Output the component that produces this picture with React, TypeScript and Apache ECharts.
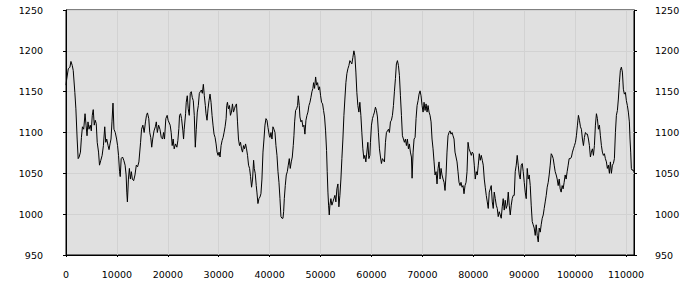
import React, { useEffect, useRef } from "react";
import * as echarts from "echarts";

// Readings of the trace, [position, value], by stretch of the x axis
const stretch0to20k: [number, number][] = [
  [0,1158],[130,1165],[450,1178],[770,1180],[970,1187],[1230,1182],[1420,1176],[1740,1149],[1940,1129],[2190,1092],[2390,1068],[2580,1070],[2840,1076],[3030,1094],[3230,1107],[3480,1104],[3740,1123],[3940,1109],[4130,1096],[4320,1113],[4520,1104],[4770,1109],[4970,1102],[5160,1121],[5350,1128],[5550,1109],[5740,1115],[5940,1111],[6130,1088],[6390,1076],[6580,1060],[6840,1066],[7100,1072],[7350,1084],[7610,1107],[7810,1088],[8000,1092],[8260,1084],[8450,1079],[8650,1086],[8840,1092],[9030,1113],[9230,1136],[9420,1104],[9680,1100],[9940,1092],[10130,1084],[10320,1072],[10520,1052],[10650,1046],[10840,1068],[11100,1070],[11350,1066],[11610,1060],[11810,1048],[11940,1027],[12060,1015],[12260,1043],[12450,1056],[12650,1043],[12840,1052],[13030,1043],[13290,1041],[13550,1048],[13810,1060],[14060,1058],[14320,1064],[14650,1088],[14840,1104],[15100,1109],[15350,1100],[15610,1113],[15810,1121],[16000,1124],[16260,1117],[16450,1100],[16650,1094],[16840,1082],[17030,1092],[17290,1102],[17550,1107],[17740,1113],[17940,1100],[18190,1109],[18450,1104],[18710,1094],[18970,1092],[19160,1100],[19350,1092],[19610,1117],[19870,1121],[20060,1115]
];
const stretch20kto40k: [number, number][] = [
  [20460,1109],[20660,1100],[20860,1084],[21050,1092],[21250,1080],[21510,1086],[21780,1082],[21970,1090],[22170,1105],[22300,1121],[22500,1123],[22700,1117],[22960,1102],[23090,1092],[23220,1104],[23490,1123],[23620,1137],[23820,1145],[24010,1129],[24210,1121],[24410,1148],[24610,1150],[24800,1143],[25000,1139],[25200,1121],[25400,1082],[25590,1104],[25790,1125],[25990,1133],[26190,1148],[26380,1150],[26580,1152],[26780,1148],[26980,1159],[27170,1145],[27370,1133],[27500,1123],[27700,1115],[27900,1129],[28090,1139],[28290,1147],[28490,1137],[28690,1121],[28880,1109],[29080,1098],[29280,1094],[29480,1086],[29670,1076],[29870,1072],[30070,1076],[30260,1070],[30460,1084],[30660,1090],[30860,1094],[31050,1100],[31250,1107],[31450,1117],[31580,1133],[31710,1137],[31910,1129],[32110,1133],[32300,1121],[32500,1125],[32700,1135],[32900,1125],[33090,1129],[33290,1133],[33490,1135],[33690,1113],[33880,1092],[34080,1084],[34280,1088],[34480,1080],[34670,1076],[34870,1084],[35070,1080],[35270,1086],[35460,1080],[35660,1072],[35860,1060],[36060,1056],[36250,1046],[36450,1033],[36650,1043],[36850,1066],[36980,1056],[37170,1050],[37370,1035],[37500,1027],[37700,1013],[37900,1019],[38100,1021],[38290,1025],[38490,1043],[38690,1076],[38890,1092],[39080,1109],[39280,1117],[39480,1115],[39680,1106],[39940,1096]
];
const stretch40kto60k: [number, number][] = [
  [40070,1094],[40260,1100],[40460,1092],[40650,1107],[40850,1104],[41050,1100],[41240,1084],[41440,1072],[41640,1052],[41830,1039],[42030,1019],[42220,997],[42420,995],[42620,995],[42750,1003],[42880,1019],[43070,1035],[43270,1048],[43470,1052],[43660,1060],[43860,1068],[44050,1056],[44250,1064],[44450,1070],[44640,1084],[44770,1096],[44910,1113],[45100,1127],[45300,1129],[45490,1133],[45620,1145],[45820,1133],[45950,1119],[46150,1113],[46340,1115],[46540,1107],[46740,1109],[46930,1098],[47130,1115],[47330,1121],[47520,1125],[47720,1133],[47920,1137],[48110,1143],[48310,1150],[48500,1154],[48630,1161],[48830,1154],[49030,1168],[49220,1158],[49420,1161],[49610,1152],[49810,1156],[50010,1145],[50200,1137],[50400,1135],[50590,1127],[50790,1119],[50990,1102],[51180,1078],[51310,1052],[51450,1027],[51580,1011],[51710,999],[51840,1011],[52030,1019],[52230,1011],[52430,1015],[52620,1019],[52820,1023],[53010,1015],[53210,1031],[53410,1037],[53600,1009],[53800,1023],[54000,1043],[54190,1068],[54390,1092],[54590,1121],[54780,1141],[54980,1161],[55170,1172],[55370,1178],[55570,1182],[55760,1188],[55960,1186],[56150,1184],[56350,1192],[56550,1200],[56740,1194],[56940,1174],[57130,1149],[57330,1133],[57530,1125],[57720,1137],[57920,1121],[58110,1100],[58310,1080],[58510,1068],[58700,1072],[58900,1064],[59100,1076],[59290,1088],[59490,1068],[59690,1072],[59800,1088]
];
const stretch60kto80k: [number, number][] = [
  [60000,1109],[60200,1117],[60390,1121],[60590,1125],[60780,1131],[60980,1127],[61180,1119],[61370,1100],[61570,1080],[61770,1070],[61960,1062],[62160,1068],[62350,1066],[62550,1064],[62750,1088],[62940,1100],[63140,1102],[63340,1104],[63530,1100],[63730,1113],[63920,1115],[64120,1121],[64320,1133],[64510,1150],[64710,1166],[64900,1184],[65100,1188],[65300,1182],[65490,1170],[65690,1145],[65890,1121],[66080,1096],[66280,1092],[66470,1088],[66670,1092],[66870,1084],[67060,1092],[67260,1080],[67450,1086],[67650,1076],[67850,1070],[67980,1044],[68180,1076],[68370,1092],[68570,1094],[68760,1117],[68960,1133],[69160,1139],[69350,1147],[69550,1151],[69740,1145],[69940,1133],[70140,1125],[70330,1137],[70530,1127],[70730,1135],[70920,1125],[71120,1133],[71310,1125],[71510,1121],[71710,1113],[71900,1092],[72100,1080],[72300,1064],[72490,1048],[72690,1052],[72880,1037],[73080,1056],[73280,1064],[73470,1043],[73670,1056],[73860,1048],[74060,1043],[74260,1039],[74450,1029],[74650,1048],[74840,1076],[75040,1096],[75240,1100],[75430,1102],[75630,1098],[75830,1100],[76020,1096],[76220,1092],[76410,1076],[76610,1070],[76810,1064],[77000,1052],[77200,1039],[77400,1035],[77590,1039],[77790,1033],[77990,1035],[78180,1025],[78380,1035],[78580,1039],[78770,1052],[78970,1088],[79160,1080]
];
const stretch80kto100k: [number, number][] = [
  [79410,1076],[79610,1072],[79800,1076],[80000,1074],[80200,1060],[80390,1043],[80590,1052],[80780,1048],[80980,1060],[81180,1074],[81370,1066],[81570,1072],[81770,1066],[81960,1060],[82160,1043],[82350,1033],[82550,1023],[82750,1015],[82940,1007],[83140,1027],[83340,1031],[83530,1035],[83730,1015],[83920,1007],[84120,1027],[84320,1019],[84510,1011],[84710,1007],[84900,997],[85100,1003],[85300,999],[85490,995],[85690,1009],[85880,1019],[86080,1005],[86280,1017],[86470,1007],[86670,1011],[86870,1027],[87060,1011],[87260,999],[87460,1011],[87650,1019],[87850,1023],[88050,1023],[88240,1052],[88440,1060],[88630,1072],[88830,1060],[89030,1048],[89220,1043],[89420,1060],[89620,1062],[89810,1052],[90010,1039],[90200,1027],[90400,1019],[90600,1056],[90790,1043],[90990,1048],[91190,1035],[91380,1011],[91580,991],[91770,987],[91970,983],[92170,974],[92360,987],[92560,974],[92760,966],[92950,983],[93150,978],[93340,987],[93540,995],[93740,999],[93930,1007],[94130,1015],[94330,1023],[94520,1033],[94720,1039],[94910,1048],[95110,1060],[95310,1074],[95500,1072],[95700,1068],[95890,1060],[96090,1052],[96290,1048],[96480,1043],[96680,1035],[96880,1043],[97070,1031],[97260,1027],[97460,1035],[97650,1031],[97850,1039],[98050,1048],[98240,1043],[98440,1052],[98640,1060],[98830,1068]
];
const stretch100kToEnd: [number, number][] = [
  [99080,1068],[99280,1070],[99480,1076],[99670,1080],[99870,1084],[100070,1088],[100260,1096],[100460,1109],[100650,1121],[100850,1115],[101050,1107],[101240,1104],[101440,1092],[101640,1084],[101830,1094],[102030,1100],[102220,1098],[102420,1098],[102620,1092],[102810,1084],[103010,1070],[103200,1076],[103400,1080],[103600,1072],[103790,1084],[103990,1109],[104190,1123],[104380,1117],[104580,1104],[104780,1109],[104970,1096],[105170,1084],[105360,1076],[105560,1072],[105760,1074],[105950,1068],[106150,1064],[106340,1056],[106540,1060],[106740,1050],[106930,1064],[107130,1050],[107330,1060],[107520,1062],[107720,1068],[107920,1100],[108110,1121],[108310,1127],[108500,1141],[108700,1161],[108890,1176],[109090,1180],[109290,1174],[109480,1153],[109680,1147],[109880,1149],[110070,1139],[110270,1133],[110460,1125],[110660,1113],[110790,1092],[110920,1076],[111050,1056],[111180,1054],[111380,1054],[111570,1052]
];

const xMin = 0;
const xStep = 10000;
const yMin = 950;
const yMax = 1250;
const yStep = 50;

export default function App() {
  const ref = useRef<HTMLDivElement>(null);
  useEffect(() => {
    document.body.style.margin = "0";
    if (!ref.current) return;
    const chart = echarts.init(ref.current, undefined, { renderer: "svg" });
    const data = [
      ...stretch0to20k,
      ...stretch20kto40k,
      ...stretch40kto60k,
      ...stretch60kto80k,
      ...stretch80kto100k,
      ...stretch100kToEnd,
    ];
    const plain = (v: number) => String(v);
    const font = { fontFamily: "DejaVu Sans", fontSize: 9.5, color: "#000", formatter: plain };
    const yAxisBase = {
      type: "value" as const,
      min: yMin,
      max: yMax,
      interval: yStep,
      axisLine: { show: true, lineStyle: { color: "#000", width: 1 } },
      axisTick: { show: true, length: 3, lineStyle: { color: "#000" } },
    };
    chart.setOption({
      animation: false,
      backgroundColor: "#fff",
      grid: {
        left: 66,
        right: 66,
        top: 10,
        bottom: 45,
        show: true,
        backgroundColor: "#e0e0e0",
        borderColor: "#000",
        borderWidth: 1,
      },
      xAxis: {
        type: "value",
        min: xMin,
        max: "dataMax",
        interval: xStep,
        axisLine: { show: true, onZero: false, lineStyle: { color: "#000", width: 1 } },
        axisTick: { show: true, length: 2, lineStyle: { color: "#000" } },
        axisLabel: { ...font, margin: 14, showMaxLabel: false },
        splitLine: { show: true, lineStyle: { color: "#d2d2d2", width: 1 } },
      },
      yAxis: [
        {
          ...yAxisBase,
          position: "left",
          axisLabel: { ...font, margin: 23 },
          splitLine: { show: true, lineStyle: { color: "#d2d2d2", width: 1 } },
        },
        {
          ...yAxisBase,
          position: "right",
          axisLabel: { ...font, margin: 21 },
          splitLine: { show: false },
        },
      ],
      series: [
        {
          type: "line",
          data,
          showSymbol: false,
          symbol: "none",
          lineStyle: { color: "#000", width: 1 },
          silent: true,
        },
      ],
    });
    return () => chart.dispose();
  }, []);
  return <div ref={ref} style={{ width: 700, height: 300 }} />;
}
